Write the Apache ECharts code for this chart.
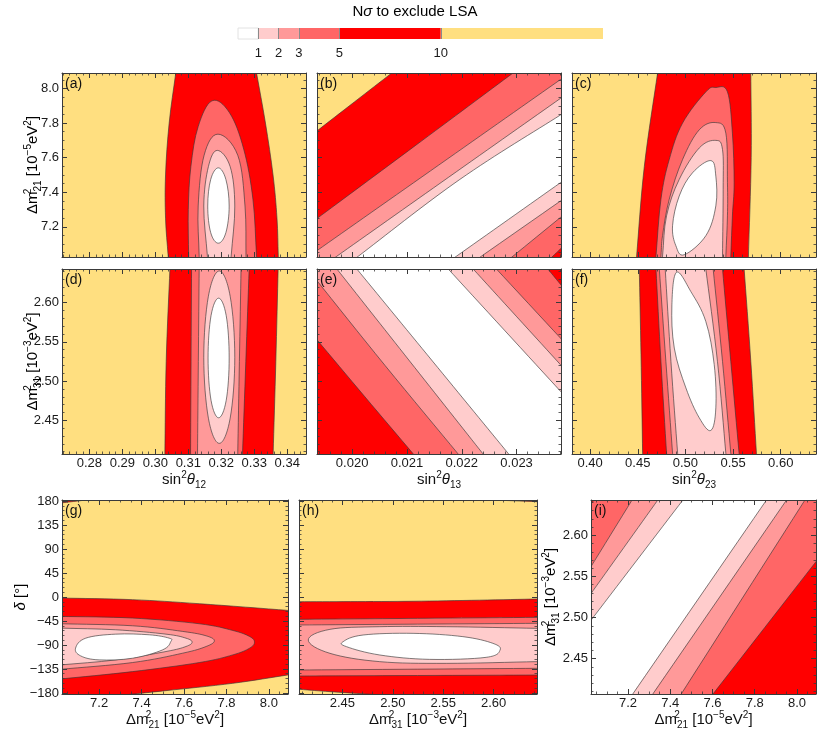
<!DOCTYPE html>
<html><head><meta charset="utf-8">
<script src="https://cdn.jsdelivr.net/npm/echarts@6/dist/echarts.min.js"></script>
<style>html,body{margin:0;padding:0;background:#fff}#c{width:830px;height:735px}</style>
</head><body><div id="c"></div>
<script>
// ---------------- data ----------------
const levelColors = ['#ffffff', '#ffcccc', '#ff9999', '#ff6666', '#ff0000']; // N<1, N<2, N<3, N<5, N<10
const aboveColor = '#ffdf80'; // N>10
const cbBounds = [0, 1, 2, 3, 5, 10, 18];
const cbColors = ['#ffffff', '#ffcccc', '#ff9999', '#ff6666', '#ff0000', '#ffdf80'];
const cbTicks = [1, 2, 3, 5, 10];

const rangeS12 = [0.2717, 0.3457];
const rangeS13 = [0.01936, 0.02381];
const rangeS23 = [0.381, 0.637];
const rangeM21 = [7.025, 8.09];
const rangeM31 = [2.407, 2.643];
const rangeD = [-182, 182];

const ticksS12 = [0.28, 0.29, 0.30, 0.31, 0.32, 0.33, 0.34];
const ticksS13 = [0.020, 0.021, 0.022, 0.023];
const ticksS23 = [0.40, 0.45, 0.50, 0.55, 0.60];
const ticksM21 = [7.2, 7.4, 7.6, 7.8, 8.0];
const ticksM31 = [2.45, 2.50, 2.55, 2.60];
const ticksD = [-180, -135, -90, -45, 0, 45, 90, 135, 180];
const minorStep = {S12: 0.002, S13: 0.0002, S23: 0.01, M21: 0.05, M31: 0.01, D: 9};

// contour regions: lv = region index (N below level), path = runs of contour points (data coords)
const contA = [
  {lv: 4, path: [[[0.3062, 8.09], [0.3042, 7.80], [0.3031, 7.50], [0.3031, 7.25], [0.3039, 7.03]],
                 [[0.3373, 7.03], [0.3369, 7.25], [0.3357, 7.50], [0.3334, 7.80], [0.3307, 8.09]]]},
  {lv: 3, path: [[[0.3101, 7.03], [0.3100, 7.30], [0.3108, 7.55], [0.3130, 7.78], [0.3172, 7.929], [0.3225, 7.86], [0.3268, 7.65], [0.3296, 7.36], [0.3307, 7.03]]]},
  {lv: 2, path: [[[0.3133, 7.03], [0.3130, 7.32], [0.3148, 7.614], [0.3190, 7.736], [0.3250, 7.614], [0.3272, 7.32], [0.3275, 7.03]]]},
  {lv: 1, path: [[[0.3158, 7.03], [0.3147, 7.32], [0.3161, 7.548], [0.3188, 7.642], [0.3227, 7.548], [0.3241, 7.32], [0.3230, 7.03]]]},
  {lv: 0, ring: [[0.3191, 7.541], [0.3214, 7.474], [0.3224, 7.32], [0.3214, 7.166], [0.3191, 7.105], [0.3168, 7.166], [0.3159, 7.32], [0.3168, 7.474]]}
];
const contB = [
  {lv: 4, path: [[[0.01936, 7.755], [0.020724, 8.09]], 'TR', 'BR', 'BL']},
  {lv: 3, path: [[[0.01936, 7.248], [0.02115, 7.669], [0.022935, 8.09]], 'TR', [[0.0238, 7.072], [0.023662, 7.03]], 'BL']},
  {lv: 2, path: [[[0.01936, 7.062], [0.02158, 7.557], [0.0238, 8.052]], [[0.0238, 7.254], [0.022935, 7.03]], 'BL']},
  {lv: 1, path: [[[0.019724, 7.03], [0.021762, 7.487], [0.0238, 7.943]], [[0.0238, 7.349], [0.02236, 7.03]]]},
  {lv: 0, path: [[[0.020116, 7.03], [0.021965, 7.474], [0.0238, 7.847]], [[0.0238, 7.455], [0.021905, 7.03]]]}
];
const contC = [
  {lv: 4, path: [[[0.4708, 8.09], [0.4569, 7.55], [0.4488, 7.03]], [[0.5661, 7.03], [0.5690, 7.6], [0.5686, 8.09]]]},
  {lv: 3, path: [[[0.4691, 7.03], [0.4743, 7.359], [0.4830, 7.589], [0.4970, 7.800], [0.5215, 7.981], [0.5319, 8.006], [0.5441, 7.981], [0.5493, 7.742], [0.5511, 7.455], [0.5493, 7.263], [0.5476, 7.03]]]},
  {lv: 2, path: [[[0.4743, 7.03], [0.4760, 7.149], [0.4830, 7.359], [0.4970, 7.589], [0.5145, 7.761], [0.5319, 7.803], [0.5424, 7.742], [0.5441, 7.455], [0.5441, 7.263], [0.5424, 7.03]]]},
  {lv: 1, path: [[[0.4760, 7.03], [0.4802, 7.263], [0.4935, 7.474], [0.5145, 7.656], [0.5319, 7.70], [0.5389, 7.647], [0.5396, 7.417], [0.5389, 7.03]]]},
  {lv: 0, ring: [[0.5267, 7.583], [0.5319, 7.493], [0.5319, 7.321], [0.5215, 7.149], [0.4987, 7.038], [0.4900, 7.09], [0.4865, 7.206], [0.4935, 7.378], [0.5074, 7.512]]}
];
const contD = [
  {lv: 4, path: [[[0.30443, 2.643], [0.3033, 2.525], [0.3029, 2.408]], [[0.33574, 2.408], [0.33655, 2.525], [0.33725, 2.643]]]},
  {lv: 3, path: [[[0.31099, 2.643], [0.31084, 2.525], [0.31069, 2.408]], [[0.32645, 2.408], [0.32745, 2.525], [0.32846, 2.643]]]},
  {lv: 2, path: [[[0.3133, 2.643], [0.31305, 2.525], [0.3128, 2.408]], [[0.3250, 2.408], [0.3255, 2.525], [0.3260, 2.643]]]},
  {lv: 1, ring: [[0.3194, 2.6405], [0.3227, 2.6083], [0.3241, 2.5305], [0.3227, 2.4527], [0.3194, 2.4206], [0.3161, 2.4527], [0.3147, 2.5305], [0.3161, 2.6083]]},
  {lv: 0, ring: [[0.3192, 2.6058], [0.3215, 2.5835], [0.3224, 2.5295], [0.3215, 2.4755], [0.3192, 2.4532], [0.3169, 2.4755], [0.3160, 2.5295], [0.3169, 2.5835]]}
];
const contE = [
  {lv: 4, path: ['TL', 'TR', 'BR', 'BL']},
  {lv: 3, path: [[[0.01936, 2.5527], [0.020233, 2.480], [0.021105, 2.408]], 'BR', [[0.0238, 2.6235], [0.023571, 2.643]], 'TL']},
  {lv: 2, path: [[[0.01936, 2.628], [0.0206, 2.52], [0.021923, 2.408]], 'BR', [[0.0238, 2.5549], [0.022632, 2.643]], 'TL']},
  {lv: 1, path: [[[0.019723, 2.643], [0.02105, 2.5255], [0.022378, 2.408]], 'BR', [[0.0238, 2.5210], [0.022208, 2.643]]]},
  {lv: 0, path: [[[0.020087, 2.643], [0.021466, 2.5255], [0.022844, 2.408]], 'BR', [[0.0238, 2.4871], [0.021753, 2.643]]]}
];
const contF = [
  {lv: 4, path: [[[0.4516, 2.643], [0.4534, 2.5337], [0.4551, 2.408]], [[0.5745, 2.408], [0.5686, 2.5252], [0.5616, 2.643]]]},
  {lv: 3, path: [[[0.4691, 2.643], [0.4743, 2.5252], [0.4802, 2.408]], [[0.5563, 2.408], [0.5476, 2.5252], [0.5389, 2.643]]]},
  {lv: 2, path: [[[0.4726, 2.643], [0.4795, 2.5252], [0.4865, 2.408]], [[0.5476, 2.408], [0.5389, 2.5252], [0.5291, 2.643]]]},
  {lv: 1, path: [[[0.4788, 2.643], [0.4848, 2.5252], [0.4918, 2.408]], [[0.5424, 2.408], [0.5336, 2.5252], [0.5214, 2.643]]]},
  {lv: 0, ring: [[0.4907, 2.6388], [0.5057, 2.6142], [0.5214, 2.576], [0.5302, 2.521], [0.5319, 2.4659], [0.5267, 2.4371], [0.5145, 2.4532], [0.5005, 2.4913], [0.4883, 2.5422], [0.4858, 2.5972]]}
];
const contG = [
  {lv: 4, path: [[[7.02, 176.5], [7.14, 182]], 'TL']},
  {lv: 4, path: [[[7.02, -1.9], [7.357, -5.0], [7.672, -12.6], [8.09, -25.1]], 'BR', [[8.09, -146.2], [7.83, -161.9], [7.515, -175.7], [7.36, -182]], 'BL']},
  {lv: 3, path: [[[7.02, -36.4], [7.357, -39.5], [7.672, -50.2], [7.830, -62.8], [7.909, -74.1], [7.932, -84.7], [7.909, -96.0], [7.830, -108.6], [7.672, -123.0], [7.357, -140.0], [7.02, -153.8]]]},
  {lv: 2, path: [[[7.02, -50.2], [7.357, -54.0], [7.594, -64.6], [7.704, -72.8], [7.743, -82.2], [7.704, -92.9], [7.594, -105.4], [7.357, -123.0], [7.02, -135.6]]]},
  {lv: 1, path: [[[7.02, -58.4], [7.278, -61.5], [7.515, -69.7], [7.609, -77.2], [7.638, -84.7], [7.609, -92.9], [7.515, -102.3], [7.278, -118.0], [7.02, -127.4]]]},
  {lv: 0, ring: [[7.089, -96.0], [7.137, -77.2], [7.278, -69.7], [7.436, -70.9], [7.530, -77.2], [7.538, -83.5], [7.499, -99.2], [7.357, -114.9], [7.200, -118.0], [7.113, -110.5]]}
];
const contH = [
  {lv: 4, path: [[[2.5992, 182], [2.642, 178.9]], 'TR']},
  {lv: 4, path: [[[2.407, -8.8], [2.5201, -8.0], [2.642, -3.8]], 'BR', [[2.4739, -182], [2.4377, -177.6], [2.407, -173.2]]]},
  {lv: 3, path: [[[2.407, -41.9], [2.642, -38.2]], [[2.642, -146.4], [2.407, -148.2]]]},
  {lv: 2, path: [[[2.407, -52.5], [2.642, -49.4]], [[2.642, -133.8], [2.407, -137.0]]]},
  {lv: 1, path: [[[2.642, -58.8], [2.553, -55.7], [2.4871, -55.7], [2.4377, -60.7], [2.4162, -80.7], [2.4377, -105.7], [2.4871, -121.3], [2.553, -124.5], [2.642, -121.3]]]},
  {lv: 0, ring: [[2.4508, -83.8], [2.4706, -71.3], [2.5201, -68.2], [2.5695, -74.4], [2.5992, -86.9], [2.6064, -99.4], [2.5926, -113.2], [2.5365, -117.0], [2.4871, -108.8], [2.4541, -93.2]]}
];
const contI = [
  {lv: 4, path: ['TL', 'TR', 'BR', 'BL']},
  {lv: 3, path: [[[7.02, 2.6369], [7.0406, 2.643]], 'TR', [[8.09, 2.568], [7.6025, 2.407]], 'BL']},
  {lv: 2, path: [[[7.02, 2.5599], [7.2194, 2.643]], 'TR', [[8.0377, 2.643], [7.4521, 2.407]], 'BL']},
  {lv: 1, path: [[[7.02, 2.5274], [7.3413, 2.643]], [[7.9507, 2.643], [7.3176, 2.407]], 'BL']},
  {lv: 0, path: [[[7.02, 2.495], [7.46, 2.643]], [[7.8557, 2.643], [7.2226, 2.407]], 'BL']}
];

// ---------------- layout / styling ----------------
const FONT = 'Liberation Sans, Arial, Helvetica, sans-serif';
const FRAME = '#3a3a3a';
const rich = {
  m: {fontSize: 15, fontFamily: FONT, color: '#111', verticalAlign: 'middle', lineHeight: 20},
  sp: {fontSize: 10, fontFamily: FONT, color: '#111', verticalAlign: 'top', lineHeight: 20},
  sp0: {fontSize: 10, fontFamily: FONT, color: '#111', verticalAlign: 'top', lineHeight: 20, width: 0},
  sb: {fontSize: 10, fontFamily: FONT, color: '#111', verticalAlign: 'bottom', lineHeight: 20},
  it: {fontSize: 15, fontFamily: FONT, color: '#111', fontStyle: 'italic', verticalAlign: 'middle', lineHeight: 20}
};
const nameM21 = '{m|Δm}{sp0|2}{sb|21}{m| [10}{sp|−5}{m|eV}{sp|2}{m|]}';
const nameM31 = '{m|Δm}{sp0|2}{sb|31}{m| [10}{sp|−3}{m|eV}{sp|2}{m|]}';
const nameS12 = '{m|sin}{sp|2}{it|θ}{sb|12}';
const nameS13 = '{m|sin}{sp|2}{it|θ}{sb|13}';
const nameS23 = '{m|sin}{sp|2}{it|θ}{sb|23}';
const nameD = '{it|δ}{m| [°]}';

function steps(a, b, s) {
  const out = [];
  for (let k = Math.ceil(a / s - 1e-9); k * s <= b + 1e-12; k++) out.push(+(k * s).toFixed(7));
  return out;
}
function fmt(dec) { return v => (v < 0 ? '\u2212' : '') + Math.abs(v).toFixed(dec); }

// yNameX: horizontal centre of the rotated y-axis title
const panels = [
  {id: '(a)', box: [62, 73, 244, 184], x: ['S12', rangeS12, ticksS12, 2], y: ['M21', rangeM21, ticksM21, 1], showX: false, showY: true, yName: nameM21, yNameX: 33, data: contA},
  {id: '(b)', box: [317, 73, 244, 184], x: ['S13', rangeS13, ticksS13, 3], y: ['M21', rangeM21, ticksM21, 1], showX: false, showY: false, data: contB},
  {id: '(c)', box: [572, 73, 244, 184], x: ['S23', rangeS23, ticksS23, 2], y: ['M21', rangeM21, ticksM21, 1], showX: false, showY: false, data: contC},
  {id: '(d)', box: [62, 269, 244, 185], x: ['S12', rangeS12, ticksS12, 2], y: ['M31', rangeM31, ticksM31, 2], showX: true, showY: true, xName: nameS12, xGap: 16, yName: nameM31, yNameX: 33, data: contD},
  {id: '(e)', box: [317, 269, 244, 185], x: ['S13', rangeS13, ticksS13, 3], y: ['M31', rangeM31, ticksM31, 2], showX: true, showY: false, xName: nameS13, xGap: 16, data: contE},
  {id: '(f)', box: [572, 269, 244, 185], x: ['S23', rangeS23, ticksS23, 2], y: ['M31', rangeM31, ticksM31, 2], showX: true, showY: false, xName: nameS23, xGap: 16, data: contF},
  {id: '(g)', box: [62, 500, 226, 194], x: ['M21', rangeM21, ticksM21, 1], y: ['D', rangeD, ticksD, 0], showX: true, showY: true, xName: nameM21, xGap: 16, yName: nameD, yNameX: 21, data: contG},
  {id: '(h)', box: [299, 500, 238, 194], x: ['M31', rangeM31, ticksM31, 2], y: ['D', rangeD, ticksD, 0], showX: true, showY: false, xName: nameM31, xGap: 16, data: contH},
  {id: '(i)', box: [591, 500, 225, 194], x: ['M21', rangeM21, ticksM21, 1], y: ['M31', rangeM31, ticksM31, 2], showX: true, showY: true, xName: nameM21, xGap: 16, yName: nameM31, yNameX: 551, data: contI}
];

function buildPathD(c, cs, api) {
  const K = 0.18, EXT = 40, PAD = 80;
  const X0 = cs.x - PAD, X1 = cs.x + cs.width + PAD, Y0 = cs.y - PAD, Y1 = cs.y + cs.height + PAD;
  const corners = {TL: [X0, Y0], TR: [X1, Y0], BR: [X1, Y1], BL: [X0, Y1]};
  const f = p => p[0].toFixed(2) + ' ' + p[1].toFixed(2);
  let d = '';
  const to = p => { d += (d ? ' L ' : 'M ') + f(p); };
  const seg = (pm, p0, p1, p2) => {
    const c1 = [p0[0] + (p1[0] - pm[0]) * K, p0[1] + (p1[1] - pm[1]) * K];
    const c2 = [p1[0] - (p2[0] - p0[0]) * K, p1[1] - (p2[1] - p0[1]) * K];
    d += ' C ' + f(c1) + ' ' + f(c2) + ' ' + f(p1);
  };
  if (c.ring) {
    const P = c.ring.map(v => api.coord(v));
    const n = P.length;
    d = 'M ' + f(P[0]);
    for (let i = 0; i < n; i++) seg(P[(i - 1 + n) % n], P[i], P[(i + 1) % n], P[(i + 2) % n]);
    return d + ' Z';
  }
  const ext = (a, b) => {
    const dx = a[0] - b[0], dy = a[1] - b[1], l = Math.hypot(dx, dy) || 1;
    return [a[0] + dx / l * EXT, a[1] + dy / l * EXT];
  };
  c.path.forEach(item => {
    if (typeof item === 'string') { to(corners[item]); return; }
    const P = item.map(v => api.coord(v));
    const n = P.length;
    const E0 = ext(P[0], P[1]), E1 = ext(P[n - 1], P[n - 2]);
    const Q = [E0].concat(P, [E1]);
    to(E0);
    d += ' L ' + f(P[0]);
    for (let i = 1; i < Q.length - 2; i++) seg(Q[i - 1], Q[i], Q[i + 1], Q[i + 2]);
    d += ' L ' + f(E1);
  });
  return d + ' Z';
}

const grid = [], xAxis = [], yAxis = [], series = [], graphic = [];

panels.forEach((p, gi) => {
  grid.push({left: p.box[0], top: p.box[1], width: p.box[2], height: p.box[3], show: true,
    backgroundColor: aboveColor, borderWidth: 0});
  const [xk, xr, xt, xd] = p.x;
  const [yk, yr, yt, yd] = p.y;
  const xMinor = steps(xr[0], xr[1], minorStep[xk]);
  const yMinor = steps(yr[0], yr[1], minorStep[yk]);
  const lineStyle = {color: FRAME, width: 1};
  const minorStyle = {color: FRAME, width: 0.8};
  const base = {gridIndex: gi, type: 'value', z: 10, splitLine: {show: false}, nameMoveOverlap: false};
  const xi = xAxis.length, yi = yAxis.length;
  xAxis.push(Object.assign({}, base, {min: xr[0], max: xr[1], position: 'bottom',
    axisLine: {show: true, onZero: false, lineStyle}, axisTick: {show: true, inside: true, length: 5, customValues: xt, lineStyle},
    axisLabel: {show: p.showX, customValues: xt, formatter: fmt(xd), fontSize: 13, fontFamily: FONT, color: '#1a1a1a', margin: 3},
    name: p.xName || '', nameLocation: 'middle', nameGap: p.xGap || 0, nameTextStyle: {rich, fontFamily: FONT}}));
  xAxis.push(Object.assign({}, base, {min: xr[0], max: xr[1], position: 'top',
    axisLine: {show: true, onZero: false, lineStyle}, axisTick: {show: true, inside: true, length: 5, customValues: xt, lineStyle}, axisLabel: {show: false}}));
  xAxis.push(Object.assign({}, base, {min: xr[0], max: xr[1], position: 'bottom',
    axisLine: {show: false, onZero: false}, axisTick: {show: true, inside: true, length: 2.5, customValues: xMinor, lineStyle: minorStyle}, axisLabel: {show: false}}));
  xAxis.push(Object.assign({}, base, {min: xr[0], max: xr[1], position: 'top',
    axisLine: {show: false, onZero: false}, axisTick: {show: true, inside: true, length: 2.5, customValues: xMinor, lineStyle: minorStyle}, axisLabel: {show: false}}));
  yAxis.push(Object.assign({}, base, {min: yr[0], max: yr[1], position: 'left',
    axisLine: {show: true, onZero: false, lineStyle}, axisTick: {show: true, inside: true, length: 5, customValues: yt, lineStyle},
    axisLabel: {show: p.showY, customValues: yt, formatter: fmt(yd), fontSize: 13, fontFamily: FONT, color: '#1a1a1a', margin: 3}}));
  yAxis.push(Object.assign({}, base, {min: yr[0], max: yr[1], position: 'right',
    axisLine: {show: true, onZero: false, lineStyle}, axisTick: {show: true, inside: true, length: 5, customValues: yt, lineStyle}, axisLabel: {show: false}}));
  yAxis.push(Object.assign({}, base, {min: yr[0], max: yr[1], position: 'left',
    axisLine: {show: false, onZero: false}, axisTick: {show: true, inside: true, length: 2.5, customValues: yMinor, lineStyle: minorStyle}, axisLabel: {show: false}}));
  yAxis.push(Object.assign({}, base, {min: yr[0], max: yr[1], position: 'right',
    axisLine: {show: false, onZero: false}, axisTick: {show: true, inside: true, length: 2.5, customValues: yMinor, lineStyle: minorStyle}, axisLabel: {show: false}}));

  const list = p.data;
  series.push({
    type: 'custom', xAxisIndex: xi, yAxisIndex: yi, clip: true, silent: true, animation: false,
    data: list.map((c, i) => [i]),
    renderItem: (params, api) => {
      const c = list[params.dataIndex];
      return {
        type: 'path', z2: params.dataIndex,
        shape: {pathData: buildPathD(c, params.coordSys, api)},
        style: {fill: levelColors[c.lv], stroke: 'rgba(55,55,55,0.8)', lineWidth: 0.8}
      };
    }
  });
  graphic.push({type: 'text', x: p.box[0] + 3, y: p.box[1] + 4, z: 100,
    style: {text: p.id, fontSize: 14, fontFamily: FONT, fill: '#111', textVerticalAlign: 'top'}});
  if (p.yName) {
    graphic.push({type: 'text', x: p.yNameX, y: p.box[1] + p.box[3] / 2, rotation: Math.PI / 2, z: 100,
      style: {text: p.yName, rich, align: 'center', verticalAlign: 'middle'}});
  }
});

// color bar
const cbGi = grid.length;
grid.push({left: 238, top: 28, width: 365, height: 11, show: false});
xAxis.push({gridIndex: cbGi, type: 'value', min: cbBounds[0], max: cbBounds[cbBounds.length - 1], z: 10,
  axisLine: {show: false, onZero: false}, splitLine: {show: false},
  axisTick: {show: true, inside: true, length: 11, customValues: cbTicks, lineStyle: {color: '#8a8a8a', width: 1}},
  axisLabel: {show: true, customValues: cbTicks, fontSize: 13, fontFamily: FONT, color: '#1a1a1a', margin: 8}});
yAxis.push({gridIndex: cbGi, type: 'value', min: 0, max: 1, show: false});
series.push({
  type: 'custom', xAxisIndex: xAxis.length - 1, yAxisIndex: yAxis.length - 1, silent: true, animation: false,
  data: cbColors.map((c, i) => [cbBounds[i], cbBounds[i + 1]]),
  renderItem: (params, api) => {
    const a = api.coord([api.value(0), 1]);
    const b = api.coord([api.value(1), 0]);
    const isWhite = params.dataIndex === 0;
    return {type: 'rect', shape: {x: a[0], y: a[1], width: b[0] - a[0], height: b[1] - a[1]},
      style: {fill: cbColors[params.dataIndex], stroke: isWhite ? '#e2e2e2' : null, lineWidth: isWhite ? 1 : 0}};
  }
});
graphic.push({type: 'text', x: 415, y: 12, z: 100,
  style: {text: '{m|N}{it|σ}{m| to exclude LSA}', rich, align: 'center', verticalAlign: 'middle'}});

const chart = echarts.init(document.getElementById('c'), null, {renderer: 'canvas'});
chart.setOption({animation: false, backgroundColor: '#ffffff', grid, xAxis, yAxis, series, graphic});
</script>
</body></html>
